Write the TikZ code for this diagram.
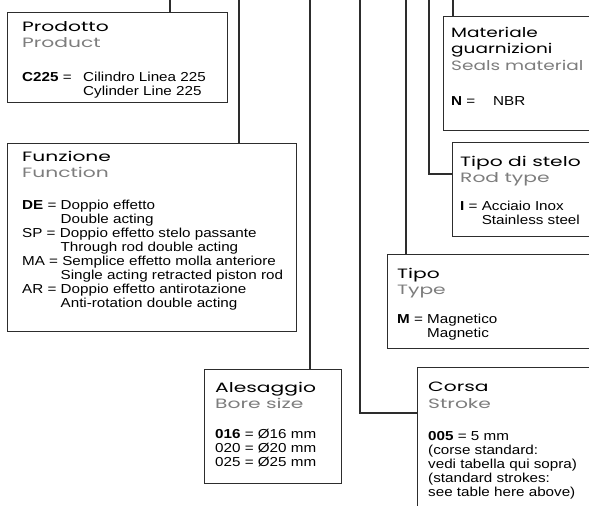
\documentclass[tikz,border=0pt]{standalone}
\usepackage{fontspec}
\setmainfont{Liberation Sans}[FakeStretch=1.17]
\newfontfamily\headfont{Poppins}[FakeStretch=1.5]
\newfontfamily\headnarrow{Poppins}[FakeStretch=1.37]
\usetikzlibrary{positioning}
\definecolor{subgray}{RGB}{125,125,125}
\definecolor{wiregray}{RGB}{45,45,45}
\newcommand{\subhead}[1]{{\color{subgray}#1}}

\begin{document}
\begin{tikzpicture}[x=1pt,y=-1pt,
    box/.style={draw=wiregray,line width=1.1pt,anchor=north west,inner sep=0pt},
    head/.style={anchor=north west,inner sep=0pt,align=left,font=\headfont\fontsize{13.5}{16.5}\selectfont},
    body/.style={anchor=north west,inner sep=0pt,align=left,font=\fontsize{13}{14}\selectfont},
    wire/.style={draw=wiregray,line width=1.1pt}]
  \useasboundingbox (0,0) rectangle (589,506);
  \clip (0,0) rectangle (589,506);

  \node[box,minimum width=220pt,minimum height=90pt] (prod) at (7,12) {};
  \node[box,minimum width=289pt,minimum height=188pt] (func) at (7,143) {};
  \node[box,minimum width=137pt,minimum height=114pt] (bore) at (204,369) {};
  \node[box,minimum width=200pt,minimum height=160pt] (stroke) at (417,367) {};
  \node[box,minimum width=220pt,minimum height=94pt] (type) at (387,254) {};
  \node[box,minimum width=160pt,minimum height=94pt] (rod) at (452,142) {};
  \node[box,minimum width=170pt,minimum height=114pt] (seal) at (443,16) {};

  \node[head,below right=9pt and 15pt of prod.north west] (prodhead) {Prodotto\\\subhead{Product}};
  \node[body,below right=60pt and 15pt of prod.north west] (prodbody)
    {\makebox[61pt][l]{\textbf{C225} =}Cilindro Linea 225\\\hspace*{61pt}Cylinder Line 225};

  \node[head,below right=8pt and 15pt of func.north west] (funchead) {Funzione\\\subhead{Function}};
  \node[body,below right=57pt and 15pt of func.north west] (funcbody)
    {\textbf{DE} = Doppio effetto\\
     \phantom{\textbf{DE} = }Double acting\\
     SP = Doppio effetto stelo passante\\
     \phantom{\textbf{DE} = }Through rod double acting\\
     MA = Semplice effetto molla anteriore\\
     \phantom{\textbf{DE} = }Single acting retracted piston rod\\
     AR = Doppio effetto antirotazione\\
     \phantom{\textbf{DE} = }Anti-rotation double acting};

  \node[head,below right=13pt and 11pt of bore.north west] (borehead) {Alesaggio\\\subhead{Bore size}};
  \node[body,below right=60pt and 11pt of bore.north west] (borebody)
    {\textbf{016} = Ø16 mm\\020 = Ø20 mm\\025 = Ø25 mm};

  \node[head,below right=15pt and 11pt of stroke.north west] (strokehead) {Corsa\\\subhead{Stroke}};
  \node[body,below right=64pt and 11pt of stroke.north west] (strokebody)
    {\textbf{005} = 5 mm\\(corse standard:\\vedi tabella qui sopra)\\(standard strokes:\\see table here above)};

  \node[head,below right=14pt and 10pt of type.north west] (typehead) {Tipo\\\subhead{Type}};
  \node[body,below right=60pt and 10pt of type.north west] (typebody)
    {\textbf{M} = Magnetico\\\phantom{\textbf{M} = }Magnetic};

  \node[head,below right=14pt and 8pt of rod.north west] (rodhead) {Tipo di stelo\\\subhead{Rod type}};
  \node[body,below right=59pt and 8pt of rod.north west] (rodbody)
    {\textbf{I} = Acciaio Inox\\\phantom{\textbf{I} = }Stainless steel};

  \node[head,font=\headnarrow\fontsize{13.5}{16.5}\selectfont,below right=11pt and 8pt of seal.north west] (sealhead)
    {Materiale\\guarnizioni\\\subhead{Seals material}};
  \node[body,below right=80pt and 8pt of seal.north west] (sealbody)
    {\makebox[42pt][l]{\textbf{N} =}NBR};

  \coordinate (prodtop) at (170,0);
  \coordinate (functop) at (239,0);
  \coordinate (boretop) at (310,0);
  \coordinate (stroketop) at (360,0);
  \coordinate (typetop) at (406,0);
  \coordinate (rodtop) at (429,0);
  \coordinate (sealtop) at (453,0);

  \draw[wire] (prodtop) -- (prodtop |- prod.north);
  \draw[wire] (functop) -- (functop |- func.north);
  \draw[wire] (boretop) -- (boretop |- bore.north);
  \draw[wire] (stroketop) |- ([yshift=-46pt]stroke.north west);
  \draw[wire] (typetop) -- (typetop |- type.north);
  \draw[wire] (rodtop) |- ([yshift=-32pt]rod.north west);
  \draw[wire] (sealtop) -- (sealtop |- seal.north);
\end{tikzpicture}
\end{document}
